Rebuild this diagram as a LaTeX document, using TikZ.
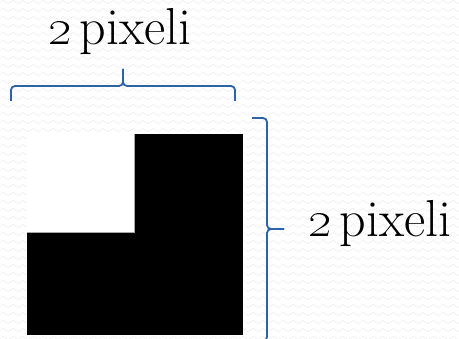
\documentclass[tikz,border=0pt]{standalone}
\usetikzlibrary{decorations.pathmorphing}
\definecolor{bracecol}{HTML}{2D62A8}
\definecolor{wavecol}{gray}{0.94}
\newcommand{\twopx}{\scalebox{2.09}{\fontsize{24.88}{30}\selectfont\oldstylenums{2}}\hspace{8pt}pixeli}
\tikzset{
  brace line/.style={draw=bracecol, line width=1.8pt, rounded corners=4pt},
  label text/.style={font=\fontsize{52}{60}\selectfont, inner sep=0pt, anchor=base west},
  texture/.style={draw=wavecol, line width=0.7pt, decorate,
    decoration={snake, segment length=10pt, amplitude=1.6pt}}
}
\begin{document}
\begin{tikzpicture}[x=1pt, y=-1pt]
  % page area
  \useasboundingbox (0,0) rectangle (459,339);
  \fill[white] (0,0) rectangle (459,339);
  % faint wavy background texture
  \begin{scope}
    \clip (0,0) rectangle (459,339);
    \foreach \r in {2,10,...,346} {
      \draw[texture] (-10,\r) -- (470,\r);
    }
  \end{scope}

  % the 2x2 pixel block: one white pixel, three black ones
  \fill[black] (27,134) rectangle (243,335);
  \fill[white] (27,134) rectangle (134.5,232);
  \draw[gray!70, line width=0.6pt] (27,232) -- (134.5,232) -- (134.5,134);

  % top brace
  \coordinate (tl) at (11,101);
  \coordinate (tr) at (235,101);
  \coordinate (tm) at (123,86);
  \coordinate (ttip) at (123,69);
  \path[brace line] (tl) |- (tm) -- (ttip);
  \path[brace line] (tr) |- (tm) -- (ttip);
  \node[label text] (toplabel) at (48,45) {\twopx};

  % right brace
  \coordinate (rt) at (252,118);
  \coordinate (rb) at (252,341);
  \coordinate (rm) at (267,229);
  \coordinate (rtip) at (284,229);
  \path[brace line] (rt) -| (rm) -- (rtip);
  \path[brace line] (rb) -| (rm) -- (rtip);
  \node[label text] (rightlabel) at (308,237) {\twopx};
\end{tikzpicture}
\end{document}
